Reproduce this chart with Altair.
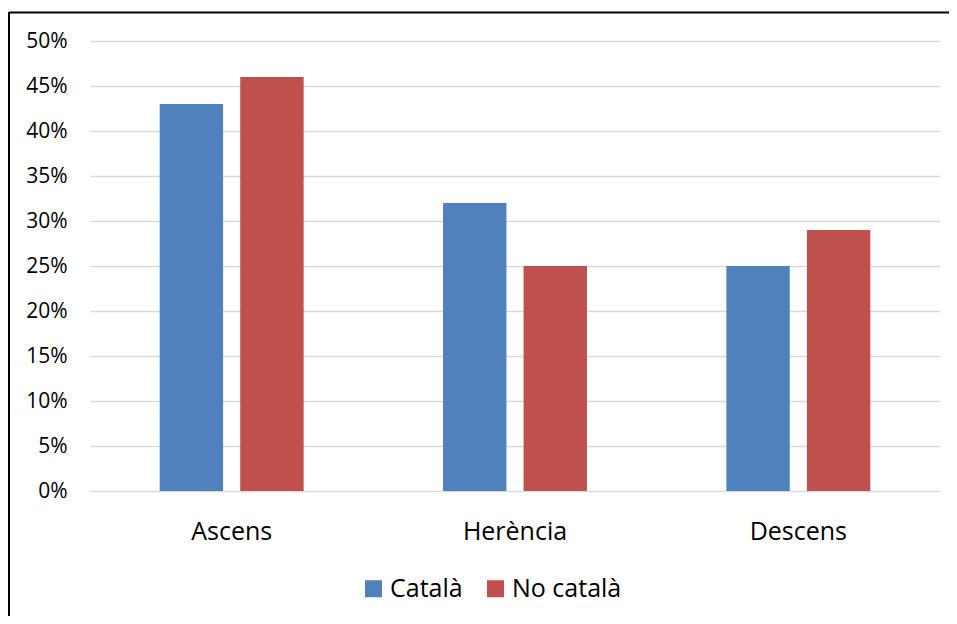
import altair as alt
import pandas as pd

categories = ["Ascens", "Herència", "Descens"]
series = ["Català", "No català"]
catala = [0.43, 0.32, 0.25]
no_catala = [0.46, 0.25, 0.29]
y_ticks = [0, 0.05, 0.10, 0.15, 0.20, 0.25, 0.30, 0.35, 0.40, 0.45, 0.50]
colors = ["#4F81BD", "#C0504D"]

rows = []
for i, c in enumerate(categories):
    rows.append({"cat": c, "serie": series[0], "val": catala[i]})
    rows.append({"cat": c, "serie": series[1], "val": no_catala[i]})
df = pd.DataFrame(rows)

FONT = "Open Sans"

bars = alt.Chart(df).mark_bar().encode(
    x=alt.X("cat:N", sort=categories, title=None,
            scale=alt.Scale(paddingInner=0.492, paddingOuter=0.246),
            axis=alt.Axis(labelAngle=0, labelFontSize=25, labelFont=FONT,
                          labelColor="#000000", labelPadding=28, ticks=False,
                          tickSize=0, domain=False, grid=False)),
    xOffset=alt.XOffset("serie:N", sort=series,
                        scale=alt.Scale(paddingInner=0.213, paddingOuter=0)),
    y=alt.Y("val:Q", title=None,
            scale=alt.Scale(domain=[0, 0.5], nice=False),
            axis=alt.Axis(values=y_ticks, format=".0%", labelFontSize=21,
                          labelFont=FONT, labelColor="#000000", labelPadding=23,
                          ticks=False, tickSize=0, domain=False, grid=True,
                          gridColor="#D9D9D9", gridWidth=1.5)),
    color=alt.Color("serie:N", sort=series,
                    scale=alt.Scale(domain=series, range=colors),
                    legend=alt.Legend(title=None, orient="none", direction="horizontal",
                                      legendX=271, legendY=535, symbolType="square",
                                      symbolSize=289, symbolStrokeWidth=0,
                                      labelFontSize=25, labelFont=FONT,
                                      labelColor="#000000", labelOffset=4,
                                      columnPadding=20, padding=0)),
)

one = alt.Data(values=[{"k": 1}])
top_border = alt.Chart(one).mark_rule(color="black", strokeWidth=2).encode(
    x=alt.value(-81), x2=alt.value(900), y=alt.value(-28.5))
left_border = alt.Chart(one).mark_rule(color="black", strokeWidth=2).encode(
    x=alt.value(-81), y=alt.value(-29), y2=alt.value(700))

chart = alt.layer(bars, top_border, left_border).properties(
    width=850, height=450,
    background="white",
    autosize=alt.AutoSizeParams(type="none"),
    padding={"left": 82, "top": 33, "right": 9, "bottom": 125},
).configure_view(stroke=None)

chart.save("out.html", embed_options={"renderer": "svg", "actions": False})
